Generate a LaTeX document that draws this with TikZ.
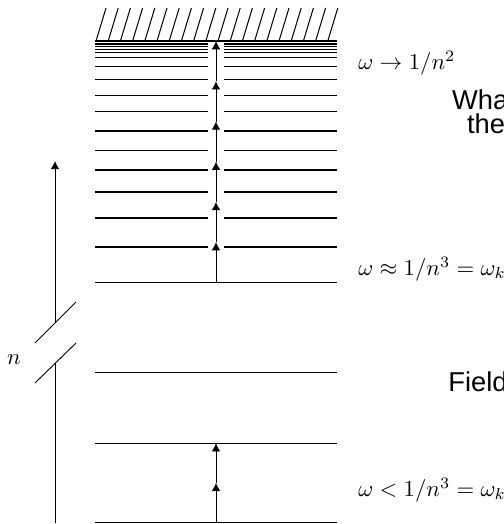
\documentclass[tikz,border=0pt]{standalone}
\usepackage{fontspec}
\newfontfamily\helv{Liberation Sans}
\usetikzlibrary{arrows.meta}
\begin{document}
\begin{tikzpicture}[x=0.44pt,y=-0.44pt,
  level/.style={line width=0.45pt},
  tip/.style={-{Latex[length=3.6pt,width=3.8pt]}},
  big/.style={font=\helv\fontsize{12}{14}\selectfont,anchor=base west,inner sep=0pt}]
  \useasboundingbox (0,0) rectangle (504,524);
  % continuum edge with hatching
  \draw[semithick] (95,41) -- (337,41);
  \foreach \i in {0,...,19}
    \draw[level] ({96+12.2*\i},41) -- ({106+12.2*\i},8);
  % split levels near the continuum
  \foreach \y in {44,46.2,49.3,52.7,57.3,66.7,79.3,95.7,111.7,131,150.7,170,192,218,247} {
    \draw[level] (95,\y) -- (208,\y);
    \draw[level] (224,\y) -- (337,\y);
  }
  % full levels
  \foreach \y in {282.3,372.7,443.3,522.5}
    \draw[level] (95,\y) -- (337,\y);
  % multiphoton ladders
  \foreach \k in {0,...,5}
    \draw[tip] (216,{282.3-40.2*\k}) -- (216,{282.3-40.2*(\k+1)});
  \foreach \k in {0,1}
    \draw[tip] (216,{522.5-39.6*\k}) -- (216,{522.5-39.6*(\k+1)});
  % n axis with break
  \coordinate (ax0) at (55,523);
  \coordinate (ax1) at (55,363);
  \coordinate (ax2) at (55,323);
  \coordinate (ax3) at (55,161);
  \draw (ax0) -- (ax1);
  \draw[tip] (ax2) -- (ax3);
  \draw (35,343) -- (76,302);
  \draw (35,383) -- (76,343);
  \node (nlab) at (14,360) {$n$};
  % labels
  \node[right,inner sep=0pt] (wtop) at (358,63) {$\omega \to 1/n^2$};
  \node[right,inner sep=0pt] (wmid) at (358,269) {$\omega \approx 1/n^3 = \omega_k$};
  \node[right,inner sep=0pt] (wlow) at (358,490) {$\omega < 1/n^3 = \omega_k$};
  \node[big] (what) at (451.7,109) {What};
  \node[big] (the) at (466.7,133) {the};
  \node[big] (field) at (448,391) {Field};
\end{tikzpicture}
\end{document}
